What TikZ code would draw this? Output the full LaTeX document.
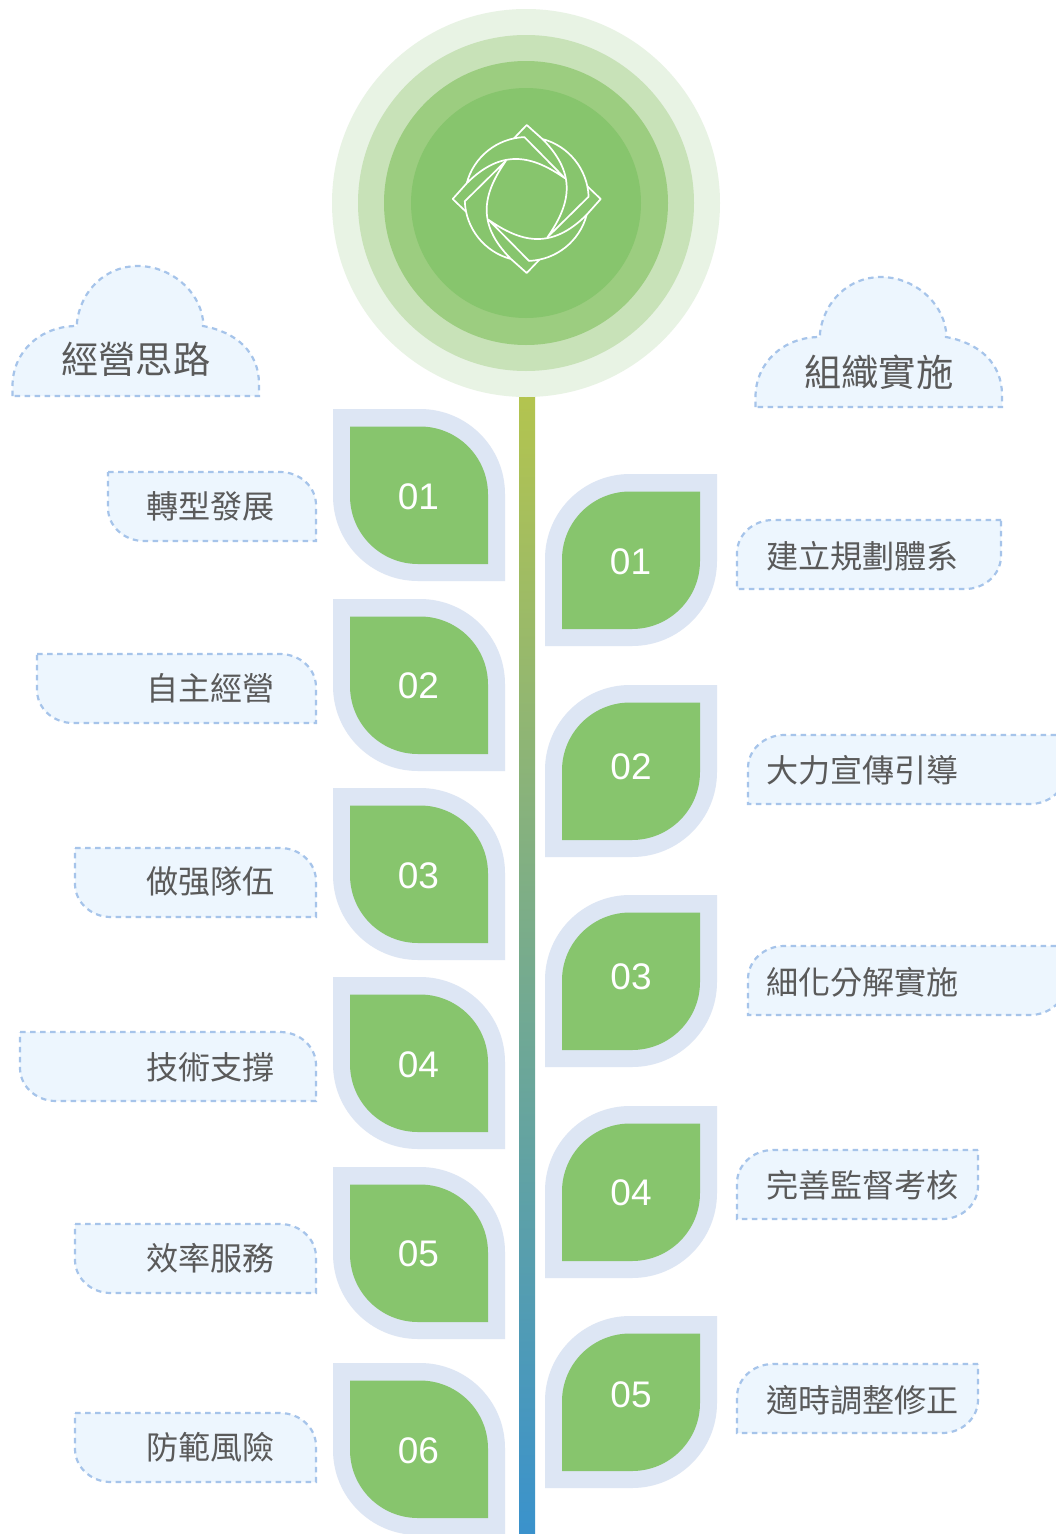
\documentclass[tikz,border=0pt]{standalone}
\usepackage{fontspec}
\setmainfont{Liberation Sans}
\newfontfamily\cjk{Noto Sans CJK TC}
\definecolor{ringa}{HTML}{E8F3E4}
\definecolor{ringb}{HTML}{C8E2B8}
\definecolor{ringc}{HTML}{9CCD80}
\definecolor{ringd}{HTML}{87C56D}
\definecolor{leafout}{HTML}{DDE6F4}
\definecolor{boxfill}{HTML}{EDF6FE}
\definecolor{boxline}{HTML}{A6C4EA}
\definecolor{ink}{HTML}{5A5A5A}
\definecolor{stemtop}{HTML}{B3C44F}
\definecolor{stembot}{HTML}{3A92CC}
% lobe shape: square top-left and bottom-right corners, rounded others
\newcommand{\lobe}[4]{(0,0) -- ({#1-#3},0) .. controls ({#1-#3+0.5523*#3},0) and (#1,{#4-0.5523*#4}) .. (#1,#4) -- (#1,#2) -- (#3,#2) .. controls ({#3-0.5523*#3},#2) and (0,{#2-#4+0.5523*#4}) .. (0,{#2-#4}) -- cycle}
\tikzset{
  boxshape/.style={fill=boxfill,draw=boxline,line width=2.2pt,dash pattern=on 5.5pt off 4.5pt},
  logoline/.style={draw=white,line width=1.7pt,line join=round},
  numtext/.style={text=white,font=\fontsize{37}{40}\selectfont,inner sep=0pt},
  labeltext/.style={text=ink,font=\cjk\fontsize{32.1}{36}\selectfont,inner sep=0pt,anchor=west},
  headtext/.style={text=ink,font=\cjk\fontsize{37.3}{42}\selectfont,inner sep=0pt,anchor=west}
}
\newcommand{\leafL}[5]{% name, top, text, text y
  \begin{scope}[shift={(333,#2)}]
    \fill[leafout] \lobe{172}{172}{85}{85};
    \begin{scope}[shift={(17,17.5)}]\fill[ringd] \lobe{138}{137.5}{68}{68};\end{scope}
  \end{scope}
  \node[numtext] (#1) at (#5,#4) {#3};
}
\newcommand{\leafR}[5]{%
  \begin{scope}[shift={(717,#2)},xscale=-1]
    \fill[leafout] \lobe{172}{172}{85}{85};
    \begin{scope}[shift={(17,17.5)}]\fill[ringd] \lobe{138}{137.5}{68}{68};\end{scope}
  \end{scope}
  \node[numtext] (#1) at (#5,#4) {#3};
}
\newcommand{\boxL}[5]{% name, left, top, text, text y
  \begin{scope}[shift={(#2,#3)}]
    \pgfmathsetmacro{\bw}{316-#2}
    \draw[boxshape] \lobe{\bw}{69}{36}{33};
  \end{scope}
  \node[labeltext] (#1) at (146,#5) {#4};
}
\newcommand{\boxR}[6]{% name, left, right, top, text, text y
  \begin{scope}[shift={(#3,#4)},xscale=-1]
    \pgfmathsetmacro{\bw}{#3-#2}
    \draw[boxshape] \lobe{\bw}{69}{36}{33};
  \end{scope}
  \node[labeltext] (#1) at (766,#6) {#5};
}
\newcommand{\cloudshape}{(12.5,396) -- (12.5,386) .. controls (12.5,352) and (40,326) .. (77,326) -- (77,322) .. controls (81,290) and (106,266) .. (138,266) .. controls (170,266) and (199,290) .. (203,320) -- (203,326) .. controls (236,332) and (259,352) .. (259,384) -- (259,396) -- cycle}
\begin{document}
\begin{tikzpicture}[x=1pt,y=-1pt]
\useasboundingbox (0,0) rectangle (1056,1534);
\clip (0,0) rectangle (1056,1534);
\fill[white] (0,0) rectangle (1056,1534);
% stem
\shade[top color=stemtop,bottom color=stembot] (519,397) rectangle (535,1534);
% rings
\fill[ringa] (526,203) circle[radius=194];
\fill[ringb] (526,203) circle[radius=168];
\fill[ringc] (526,203) circle[radius=142];
\fill[ringd] (526,203) circle[radius=115];
% logo
\foreach \a in {0,90,180,270}{
  \begin{scope}[shift={(526.7,199)},rotate=\a]
    \draw[logoline] (-12.7,-60.7) -- (0,-74) -- (15.7,-60)
       .. controls (52,-23.7) and (42.5,6.9) .. (20.7,38.3) -- (61.9,-2.3)
       .. controls (60.9,-29.6) and (42.1,-53.1) .. (15.7,-60);
  \end{scope}
}
% clouds
\draw[boxshape] \cloudshape;
\begin{scope}[shift={(743,11)}]\draw[boxshape] \cloudshape;\end{scope}
\node[headtext] (headL) at (61,359) {經營思路};
\node[headtext] (headR) at (804,372) {組織實施};
% leaves
\leafL{la}{409}{01}{497}{418.5}
\leafL{lb}{599}{02}{686}{418.5}
\leafL{lc}{788}{03}{876}{418.5}
\leafL{ld}{977}{04}{1065}{418.5}
\leafL{le}{1167}{05}{1254}{418.5}
\leafL{lf}{1363}{06}{1451}{418.5}
\leafR{ra}{474}{01}{562}{630.5}
\leafR{rb}{685}{02}{767}{631}
\leafR{rc}{895}{03}{977}{631}
\leafR{rd}{1106}{04}{1193}{631}
\leafR{re}{1316}{05}{1395}{631}
% left labels
\boxL{ta}{108}{472}{轉型發展}{506}
\boxL{tb}{37}{654}{自主經營}{688}
\boxL{tc}{75}{848}{做强隊伍}{881}
\boxL{td}{20}{1032}{技術支撐}{1067}
\boxL{te}{75}{1224}{效率服務}{1258}
\boxL{tf}{75}{1413}{防範風險}{1447}
% right labels
\boxR{ua}{737}{1001}{520}{建立規劃體系}{556}
\boxR{ub}{748}{1066}{735}{大力宣傳引導}{770}
\boxR{uc}{748}{1066}{946}{細化分解實施}{982}
\boxR{ud}{737}{978}{1150}{完善監督考核}{1185}
\boxR{ue}{737}{978}{1364}{適時調整修正}{1400}
\end{tikzpicture}
\end{document}
